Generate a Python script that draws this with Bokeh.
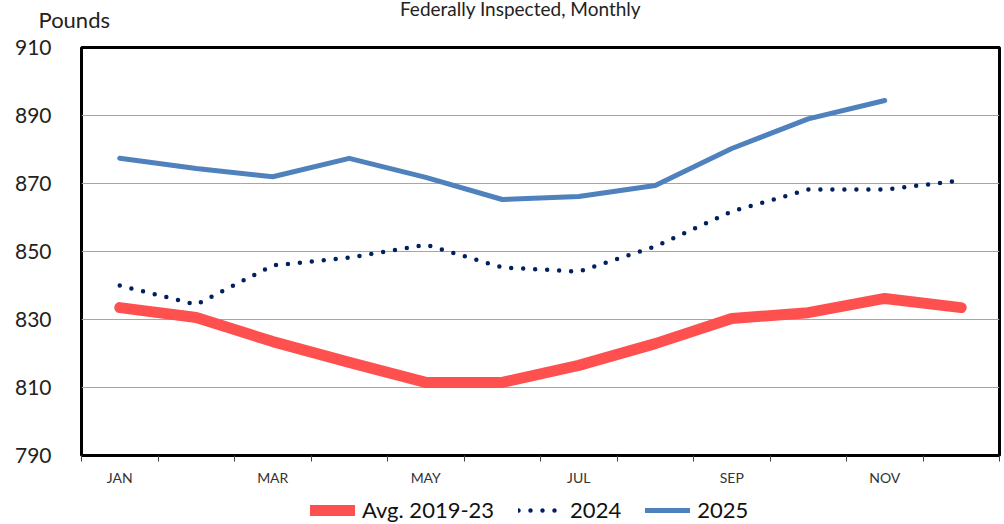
from bokeh.plotting import figure
from bokeh.layouts import column, row
from bokeh.models import FixedTicker, Legend, LegendItem, Label
from bokeh.embed import file_html
from bokeh.resources import INLINE

months = [1, 2, 3, 4, 5, 6, 7, 8, 9, 10, 11, 12]
month_labels = {1: "JAN", 3: "MAR", 5: "MAY", 7: "JUL", 9: "SEP", 11: "NOV"}
avg_2019_23 = [833.5, 830.6, 823.5, 817.4, 811.5, 811.5, 816.5, 822.9, 830.3, 832.0, 836.2, 833.5]
y2024 = [840.0, 834.4, 845.9, 848.2, 852.0, 845.3, 844.1, 851.5, 861.8, 868.2, 868.2, 870.9]
y2025 = [877.4, 874.4, 872.0, 877.4, 871.8, 865.3, 866.2, 869.4, 880.3, 889.0, 894.4]
y_ticks = [790, 810, 830, 850, 870, 890, 910]
series_names = ["Avg. 2019-23", "2024", "2025"]

FONT = "Lato"
RED, NAVY, BLUE = "#FF5050", "#002060", "#4F81BD"

W = 1004
TOP_H, MAIN_H, BOT_H = 35, 453, 36

# ---- header strip (chart title + unit label) ----
top = figure(width=W, height=TOP_H, output_backend="svg", toolbar_location=None,
             x_range=(0, W), y_range=(0, TOP_H), x_axis_location=None,
             y_axis_location=None, min_border=0, outline_line_color=None)
top.grid.visible = False
top.add_layout(Label(x=520, y=27.5, text="Federally Inspected, Monthly",
                     text_font=FONT, text_font_size="19px", text_color="#222222",
                     text_align="center", text_baseline="alphabetic"))
top.add_layout(Label(x=38, y=16.5, text="Pounds", text_font=FONT,
                     text_font_size="22px", text_color="#222222",
                     text_baseline="alphabetic"))

# ---- main chart ----
p = figure(width=W, height=MAIN_H, output_backend="svg", toolbar_location=None,
           x_range=(0.5, 12.5), y_range=(790, 910),
           min_border_left=81, min_border_right=5, min_border_top=12, min_border_bottom=33)

p.outline_line_color = "black"
p.outline_line_width = 3
p.background_fill_color = "white"
p.border_fill_color = "white"

p.yaxis.ticker = FixedTicker(ticks=y_ticks)
p.yaxis.axis_line_color = None
p.yaxis.major_tick_line_color = None
p.yaxis.minor_tick_line_color = None
p.yaxis.major_label_text_font = FONT
p.yaxis.major_label_text_font_size = "21px"
p.yaxis.major_label_text_color = "#222222"
p.yaxis.major_label_standoff = 24

p.xaxis.ticker = FixedTicker(ticks=[1, 3, 5, 7, 9, 11],
                             minor_ticks=[m - 0.5 for m in months] + [12.5])
p.xaxis.major_label_overrides = month_labels
p.xaxis.axis_line_color = None
p.xaxis.major_tick_out = 0
p.xaxis.major_tick_in = 0
p.xaxis.minor_tick_out = 6
p.xaxis.minor_tick_in = 0
p.xaxis.minor_tick_line_color = "#404040"
p.xaxis.major_label_text_font = FONT
p.xaxis.major_label_text_font_size = "14px"
p.xaxis.major_label_text_color = "#333333"
p.xaxis.major_label_standoff = 7

p.xgrid.visible = False
p.ygrid.ticker = FixedTicker(ticks=y_ticks)
p.ygrid.grid_line_color = "#A6A6A6"
p.ygrid.grid_line_width = 1

avg_style = dict(line_color=RED, line_width=11, line_cap="round", line_join="round")
s24_style = dict(line_color=NAVY, line_width=4.5, line_dash="0 12",
                 line_cap="round", line_join="round")
s25_style = dict(line_color=BLUE, line_width=5, line_cap="round", line_join="round")

p.line(months, avg_2019_23, **avg_style)
p.line(months, y2024, **s24_style)
p.line(months[:len(y2025)], y2025, **s25_style)

# ---- legend strip (series drawn out of view; only the legend shows) ----
bot = figure(width=W, height=BOT_H, output_backend="svg", toolbar_location=None,
             x_range=(0.5, 12.5), y_range=(0, 1), x_axis_location=None,
             y_axis_location=None, min_border=0, outline_line_color=None)
bot.grid.visible = False
l_avg = bot.line(months, avg_2019_23, **avg_style)
l_24 = bot.line(months, y2024, **s24_style)
l_25 = bot.line(months[:len(y2025)], y2025, **s25_style)
legend = Legend(items=[LegendItem(label=series_names[0], renderers=[l_avg]),
                       LegendItem(label=series_names[1], renderers=[l_24]),
                       LegendItem(label=series_names[2], renderers=[l_25])],
                orientation="horizontal", location=(229, 1),
                label_text_font=FONT, label_text_font_size="22px",
                label_text_color="#111111",
                glyph_width=45, glyph_height=24, label_standoff=7, spacing=24,
                padding=0, margin=0, border_line_color=None,
                background_fill_alpha=0)
bot.add_layout(legend, "center")

layout = column(row(top), p, bot, spacing=0)
open("out.html", "w").write(file_html(layout, INLINE))
